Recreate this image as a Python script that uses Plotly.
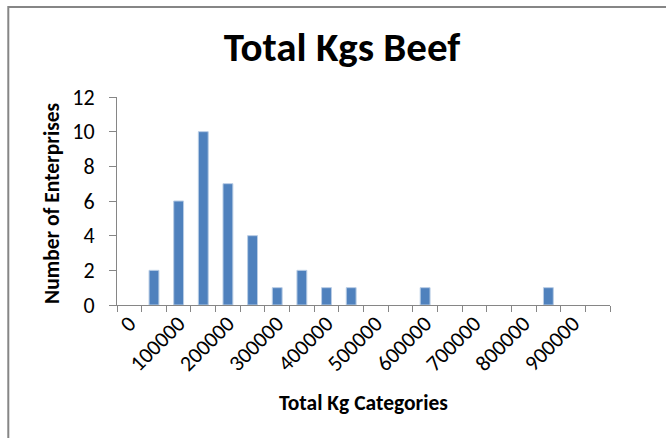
import plotly.graph_objects as go

# Category lower bounds (kg) and enterprise counts per category
categories = [str(v) for v in range(0, 1000000, 50000)]
counts = [0, 2, 6, 10, 7, 4, 1, 2, 1, 1, 0, 0, 1, 0, 0, 0, 0, 1, 0, 0]
# Only every other category gets a visible tick label
tick_labels = [c if i % 2 == 0 else "" for i, c in enumerate(categories)]

title_text = "Total Kgs Beef"
x_title = "Total Kg Categories"
y_title = "Number of Enterprises"

FONT = "Calibri, Carlito, Lato, sans-serif"
AXIS_GRAY = "#868686"

W, H = 666, 438
L, R, T, B = 117, 56, 97, 133
pw, ph = W - L - R, H - T - B


def px_x(px):
    return (px - L) / pw


def px_y(py):
    return (H - B - py) / ph


fig = go.Figure(
    go.Bar(
        x=categories,
        y=counts,
        marker=dict(
            color="#4F81BD",
            # light edge only on bars that have height
            line=dict(color="#B9CDE5", width=[1 if c else 0 for c in counts]),
        ),
    )
)

fig.update_layout(
    width=W,
    height=H,
    margin=dict(l=L, r=R, t=T, b=B),
    paper_bgcolor="white",
    plot_bgcolor="white",
    bargap=0.6,
    showlegend=False,
    font=dict(family=FONT, color="#000000"),
    title=dict(
        text=f"<b>{title_text}</b>",
        x=342 / W,
        xanchor="center",
        y=1 - 47 / H,
        yanchor="middle",
        font=dict(family=FONT, size=41, color="#000000"),
    ),
    xaxis=dict(
        type="category",
        tickmode="array",
        tickvals=categories,
        ticktext=tick_labels,
        tickangle=-45,
        tickson="boundaries",
        ticks="outside",
        ticklen=6,
        tickcolor=AXIS_GRAY,
        showline=True,
        linecolor=AXIS_GRAY,
        linewidth=1,
        showgrid=False,
        ticklabelstandoff=-4,
        tickfont=dict(family=FONT, size=22, color="#000000"),
        range=[-0.5, len(categories) - 0.5],
    ),
    yaxis=dict(
        range=[0, 12],
        dtick=2,
        ticks="outside",
        ticklen=7,
        tickcolor=AXIS_GRAY,
        showline=True,
        linecolor=AXIS_GRAY,
        linewidth=1,
        showgrid=False,
        zeroline=False,
        ticklabelstandoff=10,
        tickfont=dict(family=FONT, size=22, color="#000000"),
    ),
    annotations=[
        dict(
            text=f"<b>{y_title}</b>",
            xref="paper",
            yref="paper",
            x=px_x(52),
            y=px_y(203),
            textangle=-90,
            showarrow=False,
            xanchor="center",
            yanchor="middle",
            font=dict(family=FONT, size=21.5, color="#000000"),
        ),
        dict(
            text=f"<b>{x_title}</b>",
            xref="paper",
            yref="paper",
            x=px_x(363),
            y=px_y(403),
            showarrow=False,
            xanchor="center",
            yanchor="middle",
            font=dict(family=FONT, size=21.5, color="#000000"),
        ),
    ],
    shapes=[
        dict(
            type="rect",
            xref="paper",
            yref="paper",
            x0=px_x(8.3),
            x1=px_x(700),
            y0=px_y(470),
            y1=px_y(7),
            line=dict(color=AXIS_GRAY, width=2),
            layer="below",
        )
    ],
)

fig.write_html("out.html")
